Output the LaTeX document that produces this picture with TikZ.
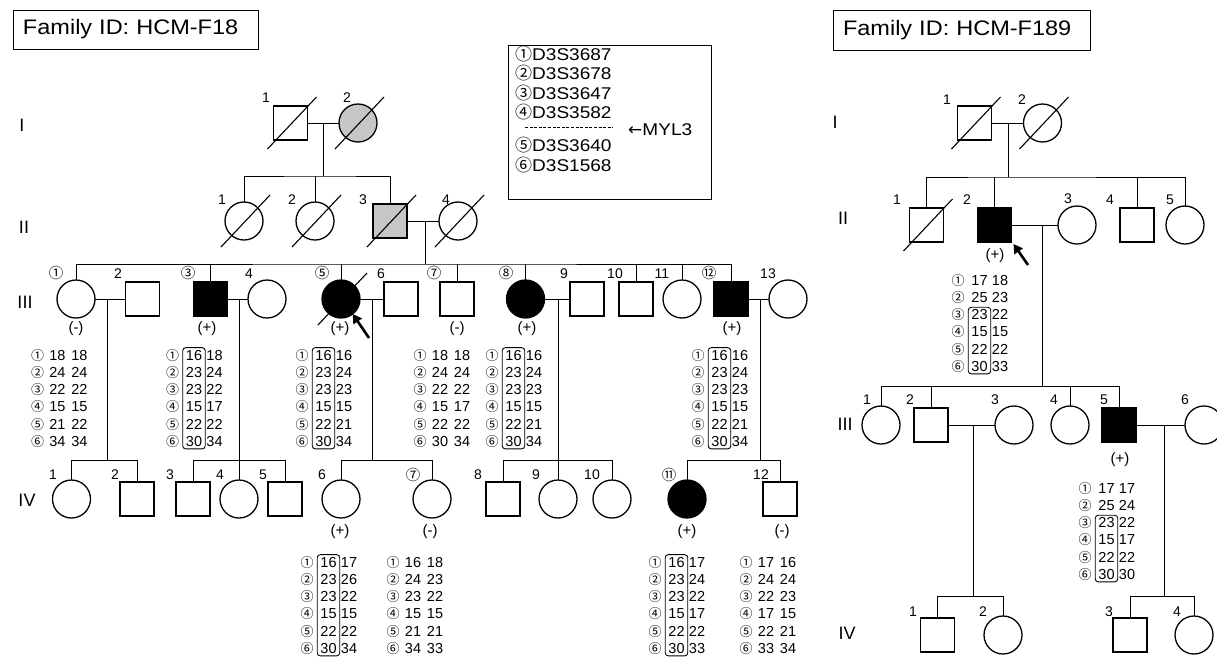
\documentclass[tikz,border=0pt]{standalone}
\usepackage{fontspec}
\setmainfont{Liberation Sans}
\newfontfamily\djv{DejaVu Sans}
\newfontfamily\cjk{Noto Sans CJK JP}
\newfontfamily\widefont[FakeStretch=1.12]{Liberation Sans}
\usetikzlibrary{arrows.meta,calc,fit}

\newcommand\circd[1]{{\cjk\ifcase#1\or ①\or ②\or ③\or ④\or ⑤\or ⑥\or ⑦\or ⑧\or ⑨\or ⑩\or ⑪\or ⑫\fi}}

% haplotype block: #1 name, #2 x of circled number, #3 y of first row, #4 first boxed row (0 none), #5 values
\newcommand\hapl[5]{%
  \ifnum#4=0 \def\offa{20}\else\def\offa{21.5}\fi
  \foreach \va/\vb [count=\i] in {#5} {%
    \pgfmathsetmacro\yy{#3+(\i-1)*17.3+5}
    \pgfmathsetmacro\xa{#2+\offa}
    \pgfmathsetmacro\xb{#2+42}
    \node[hn, anchor=base] (#1n\i) at (#2,\yy) {\circd{\i}};
    \node[hv, anchor=base] (#1a\i) at (\xa,\yy) {\va};
    \node[hv, anchor=base] (#1b\i) at (\xb,\yy) {\vb};
  }%
  \ifnum#4>0 \node[hbox, fit=(#1a#4)(#1a6)] (#1bx) {};\fi
}
\newcommand\dec[1]{\draw[slash] ($(#1.center)+(-23,26)$) -- ($(#1.center)+(26,-26)$);}

\begin{document}
\begin{tikzpicture}[x=1pt,y=-1pt,
  sym/.style={draw, line width=1.3pt, inner sep=0pt, outer sep=0pt},
  male/.style={sym, rectangle, minimum size=34pt},
  female/.style={sym, circle, minimum size=38pt},
  aff/.style={fill=black},
  carr/.style={fill=gray!45},
  lnk/.style={line width=1pt},
  slash/.style={line width=1.1pt},
  lab/.style={font=\fontsize{14}{14}\selectfont, inner sep=1pt},
  clab/.style={font=\cjk\fontsize{14.5}{14.5}\selectfont, inner sep=1pt},
  stat/.style={font=\fontsize{15}{15}\selectfont, inner sep=1pt},
  gen/.style={font=\fontsize{18}{18}\selectfont, inner sep=1pt},
  hv/.style={font=\fontsize{14.5}{14.5}\selectfont, inner sep=0pt},
  hn/.style={font=\cjk\fontsize{13}{13}\selectfont, inner sep=0pt},
  hbox/.style={draw, line width=0.9pt, rounded corners=3pt, inner xsep=3pt, inner ysep=2pt},
  titlebox/.style={draw, line width=0.8pt, align=left, inner xsep=10pt, inner ysep=0pt,
     font=\widefont\fontsize{21}{21}\selectfont},
  legt/.style={anchor=west, inner sep=0pt, font=\widefont\fontsize{17}{17}\selectfont},
  proband/.style={line width=2.6pt, -{Triangle[length=9pt,width=10pt]}}
]
\useasboundingbox (0,0) rectangle (1217,657);

% ---------- titles and legend ----------
\node[titlebox, text width=225pt, minimum height=39pt] (t1) at (135.5,29.5) {Family ID: HCM-F18};
\node[titlebox, text width=237pt, minimum height=40pt] (t2) at (961.5,30) {Family ID: HCM-F189};
\node[draw, line width=0.8pt, minimum width=203pt, minimum height=154pt] (leg) at (609.5,122) {};
\node[legt] (lg1) at (515,54) {{\cjk\fontsize{17}{17}\selectfont ①}D3S3687};
\node[legt] (lg2) at (515,73) {{\cjk\fontsize{17}{17}\selectfont ②}D3S3678};
\node[legt] (lg3) at (515,93) {{\cjk\fontsize{17}{17}\selectfont ③}D3S3647};
\node[legt] (lg4) at (515,112) {{\cjk\fontsize{17}{17}\selectfont ④}D3S3582};
\node[legt] (lg5) at (515,145) {{\cjk\fontsize{17}{17}\selectfont ⑤}D3S3640};
\node[legt] (lg6) at (515,165) {{\cjk\fontsize{17}{17}\selectfont ⑥}D3S1568};
\coordinate (dl1) at (525,127);
\coordinate (dl2) at (613,127);
\draw[line width=0.8pt, dash pattern=on 3pt off 1.6pt] (dl1) -- (dl2);
\node[legt] (myl) at (628,130) {{\djv ←}MYL3};

% ---------- generation labels ----------
\node[gen] (gl1) at (22,125) {I};
\node[gen] (gl2) at (24,227) {II};
\node[gen] (gl3) at (25,302) {III};
\node[gen] (gl4) at (27,500) {IV};
\node[gen] (gr1) at (835,122) {I};
\node[gen] (gr2) at (843,218) {II};
\node[gen] (gr3) at (845,424) {III};
\node[gen] (gr4) at (847,633) {IV};

% =============== Family HCM-F18 ===============
% Gen I
\node[male] (a1) at (290.5,123) {};
\node[female,carr] (a2) at (358,123) {};
% Gen II
\node[female] (b1) at (244,221) {};
\node[female] (b2) at (315,221) {};
\node[male,carr] (b3) at (390,221) {};
\node[female] (b4) at (458,221) {};
% Gen III
\node[female] (c1) at (76,299) {};
\node[male] (c2) at (142.5,299) {};
\node[male,aff] (c3) at (210.5,299) {};
\node[female] (c4) at (267,299) {};
\node[female,aff] (c5) at (341,299) {};
\node[male] (c6) at (401,299) {};
\node[male] (c7) at (457,299) {};
\node[female,aff] (c8) at (525.5,299) {};
\node[male] (c9) at (587,299) {};
\node[male] (c10) at (636,299) {};
\node[female] (c11) at (682,299) {};
\node[male,aff] (c12) at (731,299) {};
\node[female] (c13) at (788,299) {};
% Gen IV
\node[female] (d1) at (71.5,499) {};
\node[male] (d2) at (137,499) {};
\node[male] (d3) at (193,499) {};
\node[female] (d4) at (239,499) {};
\node[male] (d5) at (285,499) {};
\node[female] (d6) at (341,499) {};
\node[female] (d7) at (432,499) {};
\node[male] (d8) at (503,499) {};
\node[female] (d9) at (558,499) {};
\node[female] (d10) at (612,499) {};
\node[female,aff] (d11) at (687,499) {};
\node[male] (d12) at (780,499) {};

% connectors
\coordinate (ma) at (323,123);  \coordinate (sa) at (323,176);
\draw[lnk] (a1) -- (a2);
\draw[lnk] (ma) -- (sa);
\draw[lnk] (b1.north) |- (sa) -| (b3.north);
\draw[lnk] (b2.north) -- (b2.north |- sa);

\coordinate (mb) at (425,221);  \coordinate (sb) at (425,264);
\draw[lnk] (b3) -- (b4);
\draw[lnk] (mb) -- (sb);
\draw[lnk] (c1.north) |- (sb) -| (c12.north);
\foreach \n in {c3,c5,c7,c8,c10,c11} \draw[lnk] (\n.north) -- (\n.north |- sb);

\coordinate (mc1) at (107,299);  \coordinate (sc1) at (107,460);
\coordinate (mc3) at (239,299);  \coordinate (sc3) at (239,460);
\coordinate (mc5) at (372,299);  \coordinate (sc5) at (372,460);
\coordinate (mc8) at (558,299);  \coordinate (sc8) at (558,460);
\coordinate (mc12) at (760,299); \coordinate (sc12) at (760,460);
\draw[lnk] (c1) -- (c2);  \draw[lnk] (c3) -- (c4);  \draw[lnk] (c5) -- (c6);
\draw[lnk] (c8) -- (c9);  \draw[lnk] (c12) -- (c13);
\draw[lnk] (mc1) -- (sc1);  \draw[lnk] (mc3) -- (sc3);  \draw[lnk] (mc5) -- (sc5);
\draw[lnk] (mc8) -- (sc8);  \draw[lnk] (mc12) -- (sc12);
\draw[lnk] (d1.north) |- (sc1) -| (d2.north);
\draw[lnk] (d3.north) |- (sc3) -| (d5.north);
\draw[lnk] (d4.north) -- (d4.north |- sc3);
\draw[lnk] (d6.north) |- (sc5) -| (d7.north);
\draw[lnk] (d8.north) |- (sc8) -| (d10.north);
\draw[lnk] (d9.north) -- (d9.north |- sc8);
\draw[lnk] (d11.north) |- (sc12) -| (d12.north);

% deceased
\dec{a1} \dec{a2} \dec{b1} \dec{b2} \dec{b3} \dec{b4} \dec{c5}
% proband
\coordinate (pa5) at (369,338);
\draw[proband] (pa5) -- (c5.-52);

% labels
\node[lab] (la1) at (266,98) {1};
\node[lab] (la2) at (347,98) {2};
\node[lab] (lb1) at (222,200) {1};
\node[lab] (lb2) at (292,200) {2};
\node[lab] (lb3) at (363,200) {3};
\node[lab] (lb4) at (446,200) {4};
\node[clab] (lc1) at (56,273) {①};
\node[lab] (lc2) at (118,274) {2};
\node[clab] (lc3) at (188,273) {③};
\node[lab] (lc4) at (249,274) {4};
\node[clab] (lc5) at (322,273) {⑤};
\node[lab] (lc6) at (381,274) {6};
\node[clab] (lc7) at (434,273) {⑦};
\node[clab] (lc8) at (506,273) {⑧};
\node[lab] (lc9) at (564,274) {9};
\node[lab] (lc10) at (615,274) {10};
\node[lab] (lc11) at (662,274) {11};
\node[clab] (lc12) at (709,273) {⑫};
\node[lab] (lc13) at (768,274) {13};
\node[lab] (ld1) at (53,475) {1};
\node[lab] (ld2) at (115,475) {2};
\node[lab] (ld3) at (170,475) {3};
\node[lab] (ld4) at (220,475) {4};
\node[lab] (ld5) at (263,475) {5};
\node[lab] (ld6) at (322,475) {6};
\node[clab] (ld7) at (413,475) {⑦};
\node[lab] (ld8) at (478,475) {8};
\node[lab] (ld9) at (536,475) {9};
\node[lab] (ld10) at (592,475) {10};
\node[clab] (ld11) at (669,475) {⑪};
\node[lab] (ld12) at (761,475) {12};

% status
\node[stat] (pc1) at (76,329) {(-)};
\node[stat] (pc3) at (207,329) {(+)};
\node[stat] (pc5) at (340,329) {(+)};
\node[stat] (pc7) at (457,329) {(-)};
\node[stat] (pc8) at (527,329) {(+)};
\node[stat] (pc12) at (732,329) {(+)};
\node[stat] (pd6) at (340,532) {(+)};
\node[stat] (pd7) at (430,532) {(-)};
\node[stat] (pd11) at (687,532) {(+)};
\node[stat] (pd12) at (782,532) {(-)};

% haplotypes
\hapl{hca}{37.5}{355}{0}{18/18,24/24,22/22,15/15,21/22,34/34}
\hapl{hcc}{172.5}{355}{1}{16/18,23/24,23/22,15/17,22/22,30/34}
\hapl{hce}{302}{355}{1}{16/16,23/24,23/23,15/15,22/21,30/34}
\hapl{hcg}{420}{355}{0}{18/18,24/24,22/22,15/17,22/22,30/34}
\hapl{hch}{492}{355}{1}{16/16,23/24,23/23,15/15,22/21,30/34}
\hapl{hcl}{698}{355}{1}{16/16,23/24,23/23,15/15,22/21,30/34}
\hapl{hdf}{307}{562}{1}{16/17,23/26,23/22,15/15,22/22,30/34}
\hapl{hdg}{393}{562}{0}{16/18,24/23,23/22,15/15,21/21,34/33}
\hapl{hdk}{655}{562}{1}{16/17,23/24,23/22,15/17,22/22,30/33}
\hapl{hdl}{746}{562}{0}{17/16,24/24,22/23,17/15,22/21,33/34}

% =============== Family HCM-F189 ===============
\node[male] (e1) at (974.5,123) {};
\node[female] (e2) at (1042.5,123) {};
\node[male] (f1) at (926.5,225) {};
\node[male,aff] (f2) at (994.5,225) {};
\node[female] (f3) at (1077,225) {};
\node[male] (f4) at (1137,225) {};
\node[female] (f5) at (1185,225) {};
\node[female] (g1) at (881,425) {};
\node[male] (g2) at (931,425) {};
\node[female] (g3) at (1014,425) {};
\node[female] (g4) at (1070,425) {};
\node[male,aff] (g5) at (1119,425) {};
\node[female] (g6) at (1204,425) {};
\node[male] (h1) at (937.5,635) {};
\node[female] (h2) at (1003,635) {};
\node[male] (h3) at (1130,635) {};
\node[female] (h4) at (1194,635) {};

\coordinate (me) at (1008,123);  \coordinate (se) at (1008,177);
\draw[lnk] (e1) -- (e2);
\draw[lnk] (me) -- (se);
\draw[lnk] (f1.north) |- (se) -| (f5.north);
\draw[lnk] (f2.north) -- (f2.north |- se);
\draw[lnk] (f4.north) -- (f4.north |- se);
\coordinate (mf) at (1042,225);  \coordinate (sf) at (1042,386);
\draw[lnk] (f2) -- (f3);
\draw[lnk] (mf) -- (sf);
\draw[lnk] (g1.north) |- (sf) -| (g5.north);
\draw[lnk] (g2.north) -- (g2.north |- sf);
\draw[lnk] (g4.north) -- (g4.north |- sf);
\coordinate (mg2) at (973,425);  \coordinate (sg2) at (973,596);
\coordinate (mg5) at (1164,425); \coordinate (sg5) at (1164,596);
\draw[lnk] (g2) -- (g3);  \draw[lnk] (g5) -- (g6);
\draw[lnk] (mg2) -- (sg2);  \draw[lnk] (mg5) -- (sg5);
\draw[lnk] (h1.north) |- (sg2) -| (h2.north);
\draw[lnk] (h3.north) |- (sg5) -| (h4.north);

\dec{e1} \dec{e2} \dec{f1}
\coordinate (pf2) at (1028,265);
\coordinate (tf2) at (1013.5,244);
\draw[proband] (pf2) -- (tf2);

\node[lab] (le1) at (947,100) {1};
\node[lab] (le2) at (1022,100) {2};
\node[lab] (lf1) at (897,200) {1};
\node[lab] (lf2) at (967,200) {2};
\node[lab] (lf3) at (1068,199) {3};
\node[lab] (lf4) at (1110,200) {4};
\node[lab] (lf5) at (1170,200) {5};
\node[lab] (lgg1) at (867,400) {1};
\node[lab] (lgg2) at (910,400) {2};
\node[lab] (lgg3) at (995,400) {3};
\node[lab] (lgg4) at (1054,400) {4};
\node[lab] (lgg5) at (1104,400) {5};
\node[lab] (lgg6) at (1185,400) {6};
\node[lab] (lh1) at (913,612) {1};
\node[lab] (lh2) at (983,612) {2};
\node[lab] (lh3) at (1109,612) {3};
\node[lab] (lh4) at (1177,612) {4};
\node[stat] (sf2) at (995,256) {(+)};
\node[stat] (sg5s) at (1120,460) {(+)};

\hapl{hrf}{958}{280}{3}{17/18,25/23,23/22,15/15,22/22,30/33}
\hapl{hrg}{1085}{488}{3}{17/17,25/24,23/22,15/17,22/22,30/30}
\end{tikzpicture}
\end{document}
